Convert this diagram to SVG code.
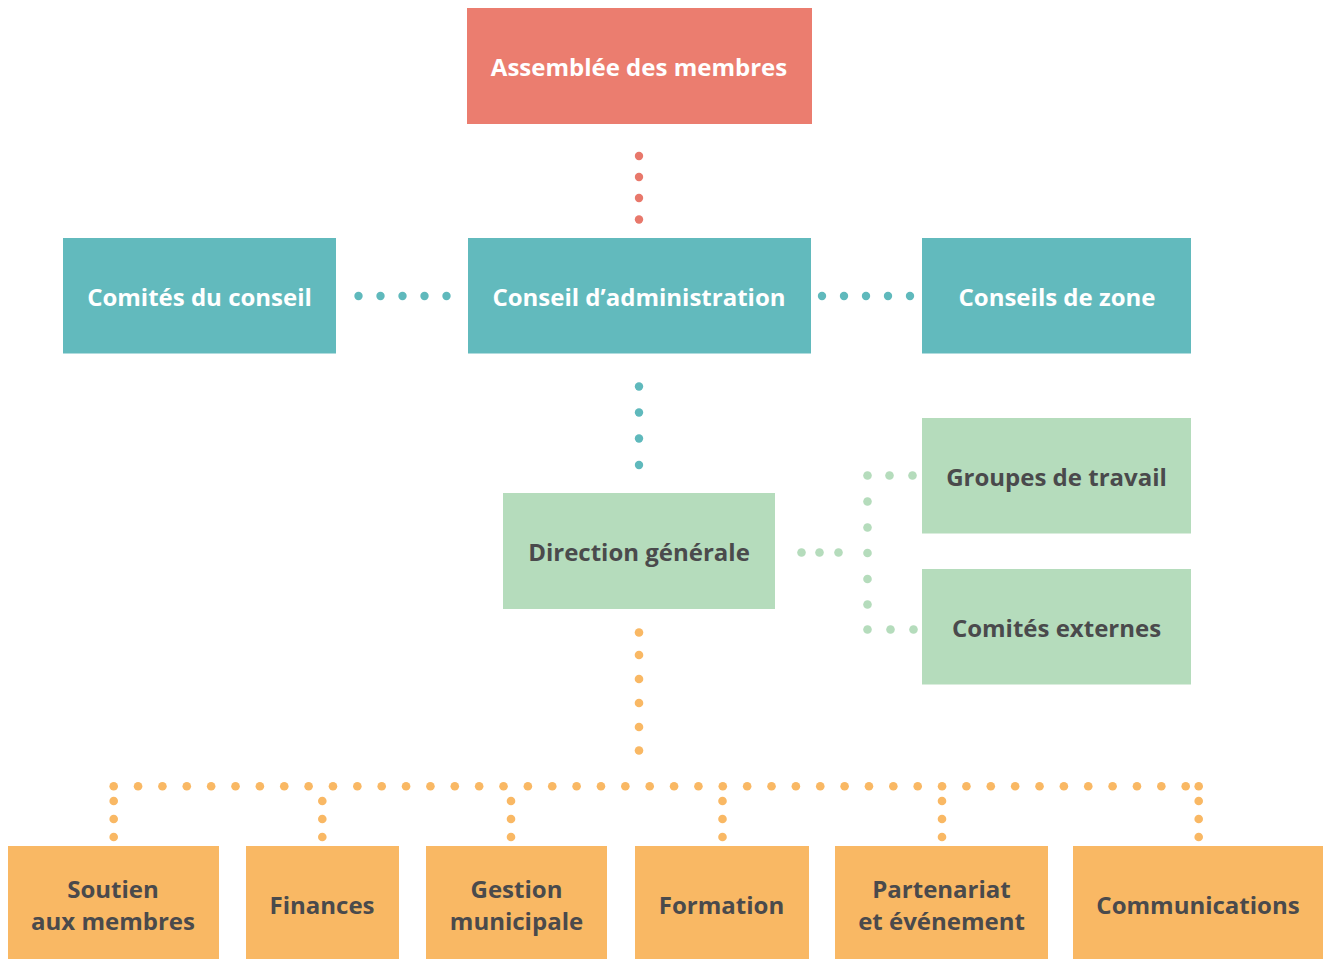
<svg xmlns="http://www.w3.org/2000/svg" width="1323" height="959" viewBox="0 0 1323 959">
<style>
.t{font-family:"Open Sans","Noto Sans","Liberation Sans",sans-serif;font-weight:700;font-size:24px;text-anchor:middle}
.w{fill:#ffffff}
.d{fill:#4a4a4c}
.red{fill:#eb7d6f}
.teal{fill:#62babd}
.green{fill:#b5dcbc}
.orange{fill:#f9b864}
</style>
<defs>
<circle id="dr" r="4.2" fill="#e8786b"/>
<circle id="dt" r="4.2" fill="#5fb9bc"/>
<circle id="dg" r="4.3" fill="#b5dcbc"/>
<circle id="do" r="4.3" fill="#f9b864"/>
</defs>
<g id="connectors">
<g id="c-assemblee-conseil">
<use href="#dr" x="639" y="156"/><use href="#dr" x="639" y="177"/><use href="#dr" x="639" y="198"/><use href="#dr" x="639" y="219.5"/>
</g>
<g id="c-comites-conseil">
<use href="#dt" x="358.5" y="296"/><use href="#dt" x="380.5" y="296"/><use href="#dt" x="402.5" y="296"/><use href="#dt" x="424.5" y="296"/><use href="#dt" x="446.5" y="296"/>
</g>
<g id="c-conseil-zone">
<use href="#dt" x="822" y="296"/><use href="#dt" x="844" y="296"/><use href="#dt" x="866" y="296"/><use href="#dt" x="888" y="296"/><use href="#dt" x="910" y="296"/>
</g>
<g id="c-conseil-direction">
<use href="#dt" x="639" y="386.5"/><use href="#dt" x="639" y="412.5"/><use href="#dt" x="639" y="438.5"/><use href="#dt" x="639" y="465"/>
</g>
<g id="c-direction-groupes">
<use href="#dg" x="801.5" y="552.5"/><use href="#dg" x="819.5" y="552.5"/><use href="#dg" x="838.5" y="552.5"/>
<use href="#dg" x="867.5" y="475.5"/><use href="#dg" x="889.5" y="475.5"/><use href="#dg" x="912.5" y="475.5"/>
<use href="#dg" x="867.5" y="501.5"/><use href="#dg" x="867.5" y="527.5"/><use href="#dg" x="867.5" y="553"/><use href="#dg" x="867.5" y="579"/><use href="#dg" x="867.5" y="604.5"/>
<use href="#dg" x="867.5" y="629.5"/><use href="#dg" x="890.5" y="629.5"/><use href="#dg" x="913.5" y="629.5"/>
</g>
<g id="c-direction-services">
<use href="#do" x="639" y="632.5"/><use href="#do" x="639" y="655"/><use href="#do" x="639" y="679"/><use href="#do" x="639" y="703"/><use href="#do" x="639" y="727"/><use href="#do" x="639" y="750.5"/>
<g id="row">
<use href="#do" x="113.7" y="786.3"/><use href="#do" x="138.06" y="786.3"/><use href="#do" x="162.43" y="786.3"/><use href="#do" x="186.79" y="786.3"/><use href="#do" x="211.15" y="786.3"/><use href="#do" x="235.52" y="786.3"/><use href="#do" x="259.88" y="786.3"/><use href="#do" x="284.25" y="786.3"/><use href="#do" x="308.61" y="786.3"/><use href="#do" x="332.97" y="786.3"/><use href="#do" x="357.34" y="786.3"/><use href="#do" x="381.7" y="786.3"/><use href="#do" x="406.06" y="786.3"/><use href="#do" x="430.43" y="786.3"/><use href="#do" x="454.79" y="786.3"/><use href="#do" x="479.16" y="786.3"/><use href="#do" x="503.52" y="786.3"/><use href="#do" x="527.88" y="786.3"/><use href="#do" x="552.25" y="786.3"/><use href="#do" x="576.61" y="786.3"/><use href="#do" x="600.97" y="786.3"/><use href="#do" x="625.34" y="786.3"/><use href="#do" x="649.7" y="786.3"/><use href="#do" x="674.06" y="786.3"/><use href="#do" x="698.43" y="786.3"/><use href="#do" x="722.79" y="786.3"/><use href="#do" x="747.16" y="786.3"/><use href="#do" x="771.52" y="786.3"/><use href="#do" x="795.88" y="786.3"/><use href="#do" x="820.25" y="786.3"/><use href="#do" x="844.61" y="786.3"/><use href="#do" x="868.97" y="786.3"/><use href="#do" x="893.34" y="786.3"/><use href="#do" x="917.7" y="786.3"/><use href="#do" x="942.06" y="786.3"/><use href="#do" x="966.43" y="786.3"/><use href="#do" x="990.79" y="786.3"/><use href="#do" x="1015.16" y="786.3"/><use href="#do" x="1039.52" y="786.3"/><use href="#do" x="1063.88" y="786.3"/><use href="#do" x="1088.25" y="786.3"/><use href="#do" x="1112.61" y="786.3"/><use href="#do" x="1136.97" y="786.3"/><use href="#do" x="1161.34" y="786.3"/><use href="#do" x="1185.7" y="786.3"/><use href="#do" x="1198.7" y="786.3"/>
</g>
<g id="branches">
<use href="#do" x="113.7" y="801"/><use href="#do" x="113.7" y="819"/><use href="#do" x="113.7" y="837"/>
<use href="#do" x="322.3" y="801"/><use href="#do" x="322.3" y="819"/><use href="#do" x="322.3" y="837"/>
<use href="#do" x="511" y="801"/><use href="#do" x="511" y="819"/><use href="#do" x="511" y="837"/>
<use href="#do" x="722.5" y="801"/><use href="#do" x="722.5" y="819"/><use href="#do" x="722.5" y="837"/>
<use href="#do" x="942" y="801"/><use href="#do" x="942" y="819"/><use href="#do" x="942" y="837"/>
<use href="#do" x="1198.7" y="801"/><use href="#do" x="1198.7" y="819"/><use href="#do" x="1198.7" y="837"/>
</g>
</g>
</g>
<g id="assemblee"><rect class="red" x="467" y="8" width="345" height="116"/><text class="t w" x="639" y="76">Assemblée des membres</text></g>
<g id="comites-conseil"><rect class="teal" x="63" y="238" width="273" height="115.5"/><text class="t w" x="199.5" y="306">Comités du conseil</text></g>
<g id="conseil-admin"><rect class="teal" x="468" y="238" width="343" height="115.5"/><text class="t w" x="639" y="306">Conseil d’administration</text></g>
<g id="conseils-zone"><rect class="teal" x="922" y="238" width="269" height="115.5"/><text class="t w" x="1057" y="306">Conseils de zone</text></g>
<g id="direction"><rect class="green" x="503" y="493" width="272" height="116"/><text class="t d" x="639" y="561">Direction générale</text></g>
<g id="groupes"><rect class="green" x="922" y="418" width="269" height="115.5"/><text class="t d" x="1056.5" y="486">Groupes de travail</text></g>
<g id="comites-externes"><rect class="green" x="922" y="569" width="269" height="115.5"/><text class="t d" x="1056.5" y="637">Comités externes</text></g>
<g id="soutien"><rect class="orange" x="8" y="846" width="211" height="113"/><text class="t d" x="113" y="898">Soutien</text><text class="t d" x="113" y="930">aux membres</text></g>
<g id="finances"><rect class="orange" x="246" y="846" width="153" height="113"/><text class="t d" x="322" y="914">Finances</text></g>
<g id="gestion"><rect class="orange" x="426" y="846" width="181" height="113"/><text class="t d" x="516.5" y="898">Gestion</text><text class="t d" x="516.5" y="930">municipale</text></g>
<g id="formation"><rect class="orange" x="635" y="846" width="174" height="113"/><text class="t d" x="721.5" y="914">Formation</text></g>
<g id="partenariat"><rect class="orange" x="835" y="846" width="213" height="113"/><text class="t d" x="941.5" y="898">Partenariat</text><text class="t d" x="941.5" y="930">et événement</text></g>
<g id="communications"><rect class="orange" x="1073" y="846" width="250" height="113"/><text class="t d" x="1198" y="914">Communications</text></g>
</svg>
